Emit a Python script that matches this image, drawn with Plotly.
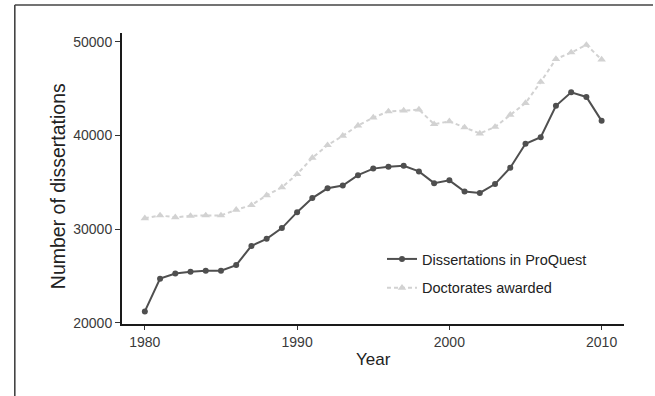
import plotly.graph_objects as go

# Annual counts, 1980-2010
years = list(range(1980, 2011))
proquest = [21200, 24700, 25250, 25450, 25550, 25550, 26150, 28200, 28950, 30100,
            31800, 33300, 34350, 34650, 35750, 36450, 36650, 36750, 36150, 34900,
            35200, 34000, 33850, 34800, 36550, 39100, 39800, 43150, 44600, 44100,
            41550]
doctorates = [31150, 31450, 31250, 31400, 31450, 31450, 32050, 32550, 33600, 34450,
              35850, 37600, 38950, 39950, 41050, 41900, 42550, 42650, 42750, 41200,
              41500, 40850, 40200, 40900, 42200, 43450, 45700, 48150, 48850, 49650,
              48100]
x_ticks = [1980, 1990, 2000, 2010]
y_ticks = [20000, 30000, 40000, 50000]

FONT = "Liberation Sans, Arial, Helvetica, sans-serif"
W, H = 655, 396
ML, MR, MT, MB = 122, 31, 33, 72
PW, PH = W - ML - MR, H - MT - MB


def px_x(p):
    return (p - ML) / PW


def px_y(p):
    return (H - MB - p) / PH


fig = go.Figure()
fig.add_trace(go.Scatter(
    x=years, y=proquest, name="Dissertations in ProQuest",
    mode="lines+markers", legendgroup="a",
    line=dict(color="#4f4f4f", width=2),
    marker=dict(symbol="circle", size=6, color="#4f4f4f"),
))
fig.add_trace(go.Scatter(
    x=years, y=doctorates, name="Doctorates awarded",
    mode="lines+markers", legendgroup="b",
    line=dict(color="#d2d2d2", width=2, dash="4px,3px"),
    marker=dict(symbol="triangle-up", size=7.5, color="#d2d2d2"),
))

axis_common = dict(
    showgrid=False, zeroline=False,
    showline=True, linecolor="#1a1a1a", linewidth=2,
    ticks="outside", tickwidth=1, tickcolor="#333333",
    tickfont=dict(family=FONT, size=14, color="#3a3a3a"),
    tickformat="d",
)

fig.update_xaxes(range=[1978.5, 2011.47], tickvals=x_ticks, ticklen=4, **axis_common)
fig.update_yaxes(range=[19860, 50930], tickvals=y_ticks, ticklen=5, **axis_common)

fig.update_layout(
    width=W, height=H,
    margin=dict(l=ML, r=MR, t=MT, b=MB, pad=0),
    paper_bgcolor="white", plot_bgcolor="white",
    font=dict(family=FONT, color="#222222"),
    showlegend=True,
    legend=dict(
        x=px_x(382), y=px_y(243), xanchor="left", yanchor="top",
        font=dict(family=FONT, size=14.5, color="#222222"),
        bgcolor="rgba(0,0,0,0)", tracegroupgap=7,
        traceorder="grouped",
    ),
    annotations=[
        dict(text="Year", x=0.5, y=px_y(359.3), xref="paper", yref="paper",
             xanchor="center", yanchor="middle", showarrow=False,
             font=dict(family=FONT, size=17, color="#222222")),
        dict(text="Number of dissertations", x=px_x(57.5), y=px_y(186.7),
             xref="paper", yref="paper", textangle=-90,
             xanchor="center", yanchor="middle", showarrow=False,
             font=dict(family=FONT, size=19.5, color="#222222")),
    ],
    shapes=[
        dict(type="line", xref="paper", yref="paper",
             x0=px_x(14.8), x1=px_x(14.8), y0=px_y(5), y1=px_y(400),
             line=dict(color="#444444", width=1.6)),
        dict(type="line", xref="paper", yref="paper",
             x0=px_x(14.8), x1=px_x(653), y0=px_y(5), y1=px_y(5),
             line=dict(color="#444444", width=1.4)),
    ],
)

fig.write_html("out.html")
